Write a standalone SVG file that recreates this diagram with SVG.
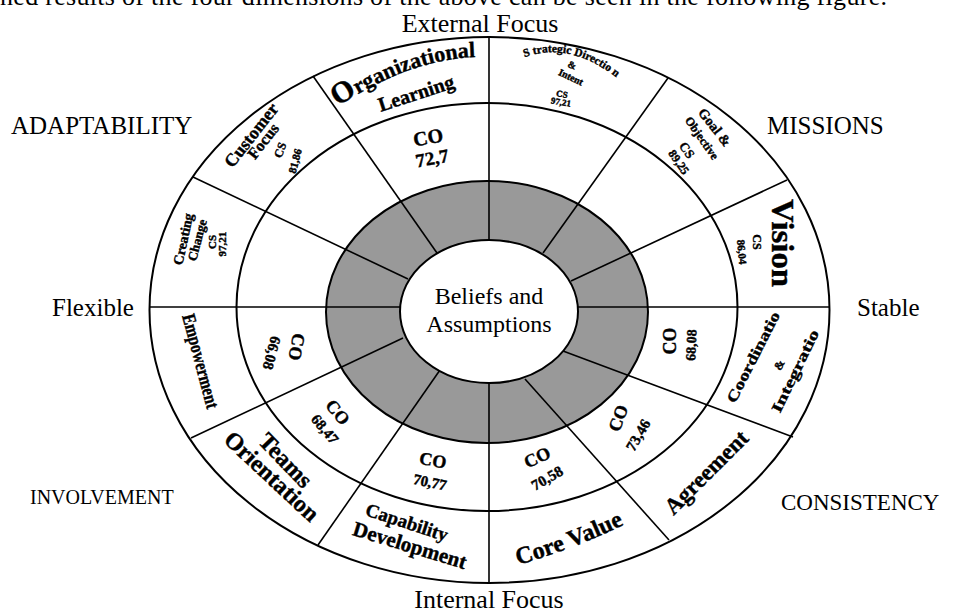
<svg xmlns="http://www.w3.org/2000/svg" width="964" height="614" viewBox="0 0 964 614">
<style>
.t { font-family: "Liberation Serif", "Times New Roman", serif; fill: #000; }
.w { font-family: "Liberation Serif", "Times New Roman", serif; font-weight: bold; fill: #000; stroke: #000; stroke-width: 0.4; text-anchor: middle; }
.ring { stroke: #000; stroke-width: 2; }
#connectors line { stroke: #000; stroke-width: 1.6; }
</style>
<defs>
<path id="pOrg" d="M332,110 Q413,56.5 482,57"/>
<path id="pStr" d="M518,60 Q568,37 622,82"/>
<path id="pCore" d="M510,567 Q568,552 632,521"/>
</defs>
<rect width="964" height="614" fill="#fff"/>
<text class="t" x="0" y="5" font-size="26" textLength="887" lengthAdjust="spacing">ned results of the four dimensions of the above can be seen in the following figure.</text>

<g id="axis-labels">
<text class="t" x="480" y="32" font-size="26" text-anchor="middle">External Focus</text>
<text class="t" x="489" y="608" font-size="26" text-anchor="middle">Internal Focus</text>
<text class="t" x="11" y="134" font-size="25">ADAPTABILITY</text>
<text class="t" x="767" y="134" font-size="25">MISSIONS</text>
<text class="t" x="52" y="316" font-size="25">Flexible</text>
<text class="t" x="857" y="316" font-size="25">Stable</text>
<text class="t" x="30" y="504" font-size="20">INVOLVEMENT</text>
<text class="t" x="781" y="510" font-size="23">CONSISTENCY</text>
</g>

<g id="rings">
<ellipse class="ring" cx="489.5" cy="310" rx="340" ry="273" fill="#fff"/>
<ellipse class="ring" cx="487" cy="307" rx="250.5" ry="204" fill="none"/>
<ellipse class="ring" cx="487" cy="312" rx="161" ry="131" fill="#999"/>
</g>

<g id="connectors">
<line x1="489" y1="37" x2="489" y2="240"/>
<line x1="489" y1="383" x2="489" y2="583"/>
<line x1="149" y1="307" x2="400" y2="307"/>
<line x1="578" y1="307" x2="830" y2="307"/>
<line x1="313" y1="76" x2="437" y2="253"/>
<line x1="193" y1="177" x2="408" y2="279"/>
<line x1="668" y1="78" x2="543" y2="253"/>
<line x1="787" y1="180" x2="571" y2="281"/>
<line x1="191" y1="438" x2="403" y2="338"/>
<line x1="318" y1="545" x2="440" y2="370"/>
<line x1="669" y1="540" x2="525" y2="379"/>
<line x1="793" y1="437" x2="563" y2="351"/>
</g>

<g id="core">
<ellipse class="ring" cx="489" cy="311.5" rx="89" ry="71.5" fill="#fff"/>
<text class="t" x="489" y="304" font-size="24" text-anchor="middle">Beliefs and</text>
<text class="t" x="489" y="332" font-size="24" text-anchor="middle">Assumptions</text>
</g>

<g id="organizational-learning">
<text class="w" font-size="22"><textPath href="#pOrg" startOffset="50%"><tspan font-size="30">O</tspan>rganizational</textPath></text>
<text class="w" font-size="20" transform="translate(416,93) rotate(-18)" dy="0.35em">Learning</text>
<text class="w" font-size="20" transform="translate(428,137) rotate(-10)" dy="0.35em">CO</text>
<text class="w" font-size="19" transform="translate(432,158) rotate(-10)" dy="0.35em">72,7</text>
</g>

<g id="strategic-direction">
<text class="w" font-size="11.5"><textPath href="#pStr" startOffset="50%">S trategic Directio n</textPath></text>
<text class="w" font-size="10" transform="translate(572,65) rotate(20)" dy="0.35em">&amp;</text>
<text class="w" font-size="10" transform="translate(571,77) rotate(25)" dy="0.35em">Intent</text>
<text class="w" font-size="9" transform="translate(562,94) rotate(10)" dy="0.35em">CS</text>
<text class="w" font-size="9" transform="translate(561,102) rotate(10)" dy="0.35em">97,21</text>
</g>

<g id="goal-objective">
<text class="w" font-size="14" transform="translate(715,127) rotate(52)" dy="0.35em">Goal &amp;</text>
<text class="w" font-size="12" transform="translate(702,138) rotate(55)" dy="0.35em">Objective</text>
<text class="w" font-size="13" transform="translate(687,150) rotate(55)" dy="0.35em">CS</text>
<text class="w" font-size="12" transform="translate(679,162) rotate(55)" dy="0.35em">89,25</text>
</g>

<g id="vision">
<text class="w" font-size="32" transform="translate(783,243) rotate(90)" dy="0.35em" textLength="88" lengthAdjust="spacingAndGlyphs">Vision</text>
<text class="w" font-size="12" transform="translate(757,242) rotate(90)" dy="0.35em">CS</text>
<text class="w" font-size="11" transform="translate(742,252) rotate(85)" dy="0.35em">86,04</text>
</g>

<g id="coordination-integration">
<text class="w" font-size="15" transform="translate(753,357) rotate(-63)" dy="0.35em" textLength="100" lengthAdjust="spacingAndGlyphs">Coordinatio</text>
<text class="w" font-size="12" transform="translate(779,365) rotate(-63)" dy="0.35em">&amp;</text>
<text class="w" font-size="15" transform="translate(795,371) rotate(-64)" dy="0.35em" textLength="90" lengthAdjust="spacingAndGlyphs">Integratio</text>
<text class="w" font-size="18" transform="translate(670,341) rotate(-90)" dy="0.35em">CO</text>
<text class="w" font-size="14" transform="translate(691,345) rotate(-88)" dy="0.35em">68,08</text>
</g>

<g id="agreement">
<text class="w" font-size="23" transform="translate(706,472) rotate(-45)" dy="0.35em">Agreement</text>
<text class="w" font-size="18" transform="translate(618,418) rotate(-70)" dy="0.35em">CO</text>
<text class="w" font-size="15" transform="translate(638,435) rotate(-60)" dy="0.35em">73,46</text>
</g>

<g id="core-value">
<text class="w" font-size="24"><textPath href="#pCore" startOffset="50%">Core Value</textPath></text>
<text class="w" font-size="18" transform="translate(537,457) rotate(-25)" dy="0.35em">CO</text>
<text class="w" font-size="15" transform="translate(547,478) rotate(-30)" dy="0.35em">70,58</text>
</g>

<g id="capability-development">
<text class="w" font-size="19" transform="translate(407,522) rotate(18)" dy="0.35em">Capability</text>
<text class="w" font-size="21" transform="translate(410,545) rotate(17)" dy="0.35em">Development</text>
<text class="w" font-size="18" transform="translate(433,460) rotate(10)" dy="0.35em">CO</text>
<text class="w" font-size="15" transform="translate(430,482) rotate(12)" dy="0.35em">70,77</text>
</g>

<g id="teams-orientation">
<text class="w" font-size="24" transform="translate(286,460) rotate(46)" dy="0.35em">Teams</text>
<text class="w" font-size="24" transform="translate(272,476) rotate(43)" dy="0.35em">Orientation</text>
<text class="w" font-size="18" transform="translate(338,412) rotate(50)" dy="0.35em">CO</text>
<text class="w" font-size="15" transform="translate(325,429) rotate(50)" dy="0.35em">68,47</text>
</g>

<g id="empowerment">
<text class="w" font-size="19" transform="translate(201,361) rotate(75)" dy="0.35em" textLength="97" lengthAdjust="spacingAndGlyphs">Empowerment</text>
<text class="w" font-size="18" transform="translate(297,347) rotate(100)" dy="0.35em">CO</text>
<text class="w" font-size="15" transform="translate(272,353) rotate(105)" dy="0.35em">66,08</text>
</g>

<g id="creating-change">
<text class="w" font-size="14" transform="translate(183,239) rotate(-78)" dy="0.35em">Creating</text>
<text class="w" font-size="13" transform="translate(197,240) rotate(-75)" dy="0.35em">Change</text>
<text class="w" font-size="11" transform="translate(212,242) rotate(-90)" dy="0.35em">CS</text>
<text class="w" font-size="11" transform="translate(222,244) rotate(-90)" dy="0.35em">97,21</text>
</g>

<g id="customer-focus">
<text class="w" font-size="18" transform="translate(251,135) rotate(-52)" dy="0.35em">Customer</text>
<text class="w" font-size="16" transform="translate(263,141) rotate(-52)" dy="0.35em">Focus</text>
<text class="w" font-size="12" transform="translate(280,150) rotate(-70)" dy="0.35em">CS</text>
<text class="w" font-size="11" transform="translate(295,161) rotate(-75)" dy="0.35em">81,86</text>
</g>
</svg>
